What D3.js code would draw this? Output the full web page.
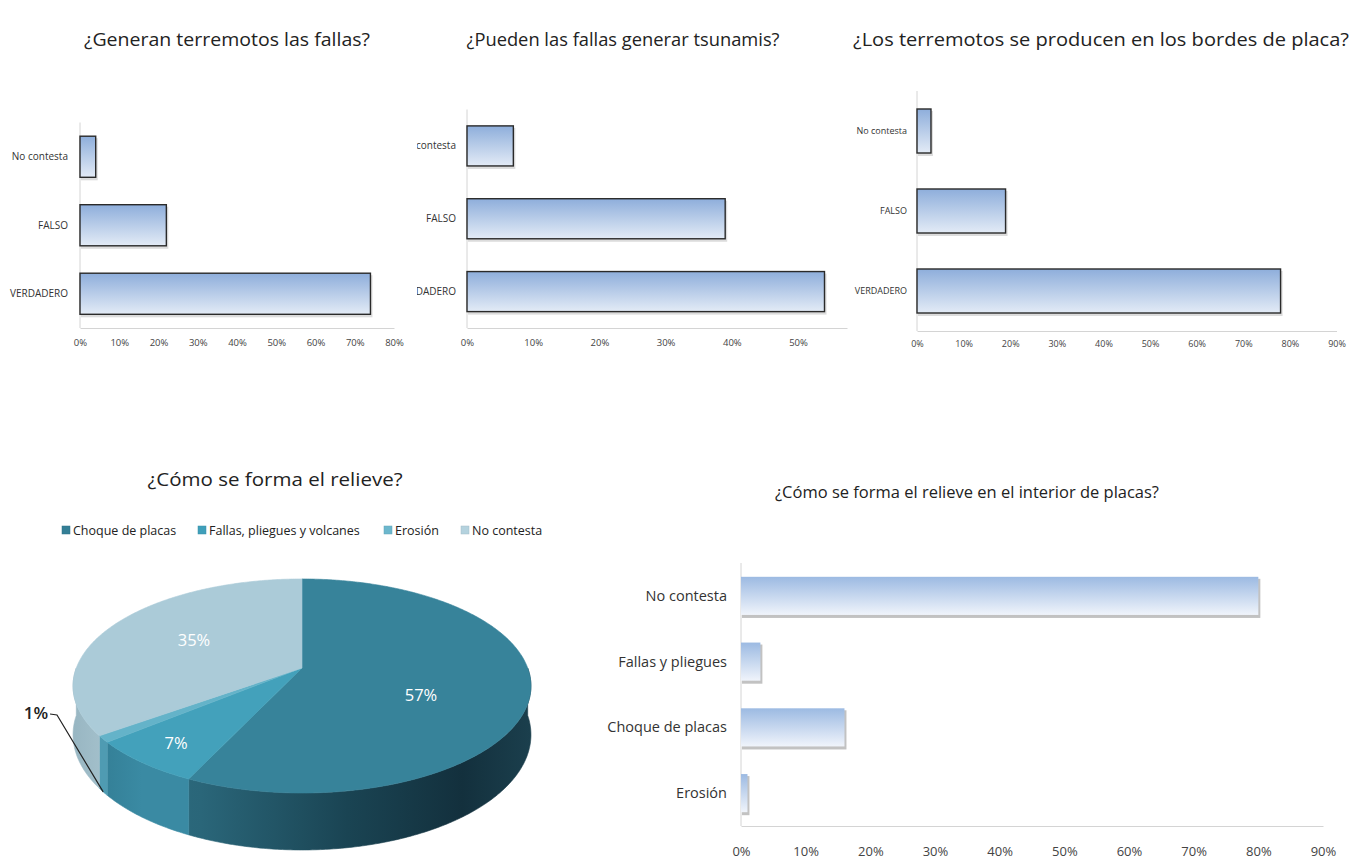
<!DOCTYPE html>
<html><head><meta charset="utf-8">
<script src="https://cdn.jsdelivr.net/npm/d3@7"></script>
<style>body{margin:0;background:#fff} text{font-family:"Open Sans",sans-serif}</style>
</head><body><svg id="c" width="1354" height="860"></svg>
<script>
// ---------- DATA ----------
const titles = ["¿Generan terremotos las fallas?", "¿Pueden las fallas generar tsunamis?", "¿Los terremotos se producen en los bordes de placa?", "¿Cómo se forma el relieve?", "¿Cómo se forma el relieve en el interior de placas?"];
const q1Categories = ["No contesta", "FALSO", "VERDADERO"];
const q1Values = [0.04, 0.22, 0.74];
const q1Ticks = [0, 0.1, 0.2, 0.3, 0.4, 0.5, 0.6, 0.7, 0.8];
const q2Categories = ["No contesta", "FALSO", "VERDADERO"];
const q2Values = [0.07, 0.39, 0.54];
const q2Ticks = [0, 0.1, 0.2, 0.3, 0.4, 0.5];
const q3Categories = ["No contesta", "FALSO", "VERDADERO"];
const q3Values = [0.03, 0.19, 0.78];
const q3Ticks = [0, 0.1, 0.2, 0.3, 0.4, 0.5, 0.6, 0.7, 0.8, 0.9];
const pieCategories = ["Choque de placas", "Fallas, pliegues y volcanes", "Erosión", "No contesta"];
const pieValues = [57, 7, 1, 35];
const pieLabels = ["57%", "7%", "1%", "35%"];
const q5Categories = ["No contesta", "Fallas y pliegues", "Choque de placas", "Erosión"];
const q5Values = [0.80, 0.03, 0.16, 0.01];
const q5Ticks = [0, 0.1, 0.2, 0.3, 0.4, 0.5, 0.6, 0.7, 0.8, 0.9];

// ---------- SETUP ----------
const svg = d3.select("#c");
const defs = svg.append("defs");
function vgrad(id, c0, c1) {
  const g = defs.append("linearGradient").attr("id", id).attr("x1", 0).attr("y1", 0).attr("x2", 0).attr("y2", 1);
  g.append("stop").attr("offset", 0).attr("stop-color", c0);
  g.append("stop").attr("offset", 1).attr("stop-color", c1);
}
vgrad("barA", "#8eaedb", "#e3ebf6");
vgrad("barB", "#9cbae2", "#f0f4fb");
const fmt = d3.format(".0%");

// titles: x, y, font size, width
const titlePos = [[227, 46, 18, 286], [623, 46, 18, 313], [1101, 46, 18, 496], [275, 486, 18.5, 255], [967, 498, 17, 384]];
titles.forEach((t, i) => {
  svg.append("text").attr("x", titlePos[i][0]).attr("y", titlePos[i][1]).attr("text-anchor", "middle")
    .attr("font-size", titlePos[i][2]).attr("fill", "#222")
    .attr("textLength", titlePos[i][3]).attr("lengthAdjust", "spacingAndGlyphs").text(t);
});

function barChart(cfg) {
  const g = svg.append("g");
  const x = d3.scaleLinear().domain(cfg.domain).range(cfg.xr);
  const y = d3.scaleBand().domain(cfg.cats).range(cfg.yr).paddingInner(cfg.pad).paddingOuter(cfg.pad / 2);
  g.append("line").attr("x1", cfg.xr[0]).attr("x2", cfg.xr[0]).attr("y1", cfg.yr[0]).attr("y2", cfg.yr[1]).attr("stroke", "#d4d4d4");
  const ax = g.append("g").attr("transform", `translate(0,${cfg.yr[1]})`)
    .call(d3.axisBottom(x).tickValues(cfg.ticks).tickFormat(fmt).tickSize(0).tickPadding(cfg.tp));
  ax.select(".domain").attr("stroke", "#d4d4d4");
  ax.selectAll("text").attr("font-size", cfg.tfs).attr("fill", "#444").attr("font-family", "Open Sans");
  const lg = g.append("g");
  if (cfg.clip) {
    defs.append("clipPath").attr("id", cfg.clip.id).append("rect")
      .attr("x", cfg.clip.x).attr("y", 0).attr("width", 1000).attr("height", 860);
    lg.attr("clip-path", `url(#${cfg.clip.id})`);
  }
  lg.selectAll("text").data(cfg.cats).join("text")
    .attr("x", cfg.lx).attr("y", d => y(d) + y.bandwidth() / 2).attr("dy", "0.35em")
    .attr("text-anchor", "end").attr("font-size", cfg.lfs).attr("fill", "#333").text(d => d);
  g.selectAll("rect.sh").data(cfg.vals).join("rect").attr("class", "sh")
    .attr("x", x(0) + 1).attr("y", (d, i) => y(cfg.cats[i]) + 2)
    .attr("width", d => x(d) - x(0) + 1).attr("height", y.bandwidth() + 1)
    .attr("fill", "#9a9a9a").attr("opacity", cfg.stroke ? 0.35 : 0.6);
  g.selectAll("rect.bar").data(cfg.vals).join("rect").attr("class", "bar")
    .attr("x", x(0)).attr("y", (d, i) => y(cfg.cats[i]))
    .attr("width", d => x(d) - x(0)).attr("height", y.bandwidth())
    .attr("fill", `url(#${cfg.grad})`)
    .attr("stroke", cfg.stroke ? "#2a2a2a" : "none").attr("stroke-width", 1.4);
}

barChart({cats: q1Categories, vals: q1Values, ticks: q1Ticks, domain: [0, 0.8], xr: [80, 394], yr: [122.5, 328], pad: 0.4,
  lx: 68, lfs: 10, tfs: 9.5, tp: 11, grad: "barA", stroke: true});
barChart({cats: q2Categories, vals: q2Values, ticks: q2Ticks, domain: [0, 0.574], xr: [467, 847], yr: [109.5, 328], pad: 0.45,
  lx: 456, lfs: 10, tfs: 9.5, tp: 11, grad: "barA", stroke: true, clip: {id: "clip2", x: 417}});
barChart({cats: q3Categories, vals: q3Values, ticks: q3Ticks, domain: [0, 0.9], xr: [917, 1336.5], yr: [91, 331], pad: 0.45,
  lx: 907, lfs: 9, tfs: 9, tp: 10, grad: "barA", stroke: true});
barChart({cats: q5Categories, vals: q5Values, ticks: q5Ticks, domain: [0, 0.9], xr: [741, 1323], yr: [563, 826], pad: 0.42,
  lx: 727, lfs: 14.5, tfs: 13, tp: 21, grad: "barB", stroke: false});

// ---------- 3D PIE ----------
const P = {cx: 302, cy: 668, C: 225.7, B: 104, H: 47.4, k: 0.168};
function proj(th, r, h) {
  const u = r * Math.sin(th), v = -r * Math.cos(th), d = 1 - P.k * v;
  return [P.cx + P.C * u / d, P.cy + (P.B * v + P.H * h) / d];
}
const arcs = d3.pie().sort(null).value(d => d)(pieValues);
const topCols = ["#37839a", "#43a1bb", "#64b3c9", "#abcbd8"];
const sideStops = [
  [[0, "#2f7185"], [0.28, "#2a6679"], [0.6, "#1a4453"], [0.85, "#13303d"], [1, "#1b3f4d"]],
  [[0, "#2f778d"], [0.15, "#3a8aa3"], [1, "#3a8aa3"]],
  [[0, "#4f9bb2"], [1, "#4f9bb2"]],
  [[0, "#98b6c2"], [0.1, "#a9c5d0"], [1, "#a9c5d0"]]
];
sideStops.forEach((s, i) => {
  const g = defs.append("linearGradient").attr("id", "side" + i).attr("gradientUnits", "userSpaceOnUse")
    .attr("x1", 73).attr("x2", 531).attr("y1", 0).attr("y2", 0);
  s.forEach(st => g.append("stop").attr("offset", st[0]).attr("stop-color", st[1]));
});
const line = d3.line();
const pg = svg.append("g");
function samples(a, b) {
  const n = Math.max(2, Math.ceil((b - a) / 0.01));
  return d3.range(n + 1).map(j => a + (b - a) * j / n);
}
arcs.forEach((a, i) => {
  const s = Math.max(a.startAngle, Math.PI / 2), e = Math.min(a.endAngle, 3 * Math.PI / 2);
  if (e <= s) return;
  const ts = samples(s, e);
  const pts = ts.map(t => proj(t, 1, 0)).concat(ts.slice().reverse().map(t => proj(t, 1, 1)));
  pg.append("path").attr("d", line(pts) + "Z").attr("fill", `url(#side${i})`)
    .attr("stroke", `url(#side${i})`).attr("stroke-width", 0.6);
});
arcs.forEach((a, i) => {
  const ts = samples(a.startAngle, a.endAngle);
  const pts = [proj(0, 0, 0)].concat(ts.map(t => proj(t, 1, 0)));
  pg.append("path").attr("d", line(pts) + "Z").attr("fill", topCols[i]).attr("stroke", topCols[i]).attr("stroke-width", 0.6);
});
const labelPos = [[421, 701], [176, 749], null, [194, 646]];
arcs.forEach((a, i) => {
  if (!labelPos[i]) return;
  pg.append("text").attr("x", labelPos[i][0]).attr("y", labelPos[i][1]).attr("text-anchor", "middle")
    .attr("font-size", 16.5).attr("fill", "#fff").text(pieLabels[i]);
});
const lp = proj((arcs[2].startAngle + arcs[2].endAngle) / 2, 1, 1);
pg.append("path").attr("d", line([[50, 714], [57, 715], lp])).attr("fill", "none").attr("stroke", "#222").attr("stroke-width", 1.2);
pg.append("text").attr("x", 36).attr("y", 719).attr("text-anchor", "middle").attr("font-size", 17)
  .attr("font-weight", 600).attr("fill", "#222").text(pieLabels[2]);

// legend
const legCols = ["#347f96", "#3f9fba", "#6cb7cd", "#b4d2de"];
const legX = [62, 198, 384, 461];
const leg = svg.append("g");
pieCategories.forEach((c, i) => {
  leg.append("rect").attr("x", legX[i]).attr("y", 526).attr("width", 8).attr("height", 8)
    .attr("fill", legCols[i]).attr("stroke", d3.color(legCols[i]).darker(0.3)).attr("stroke-width", 0.5);
  leg.append("text").attr("x", legX[i] + 11).attr("y", 534.5).attr("font-size", 12.5).attr("fill", "#222").text(c);
});
</script></body></html>
